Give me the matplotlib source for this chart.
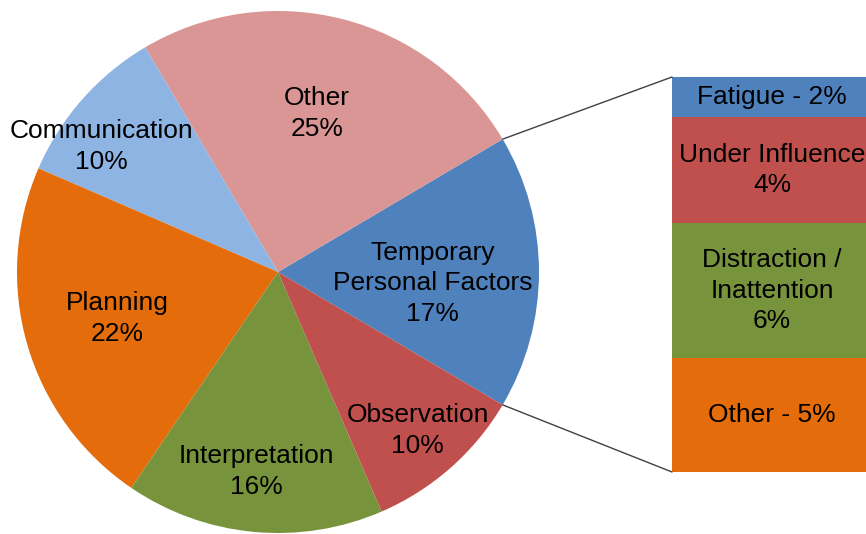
import numpy as np
import matplotlib
matplotlib.use("Agg")
import matplotlib.pyplot as plt
from matplotlib.patches import ConnectionPatch

# main pie, counterclockwise starting with the exploded slice
pie_labels = ["Temporary\nPersonal Factors", "Other", "Communication",
              "Planning", "Interpretation", "Observation"]
pie_values = [17, 25, 10, 22, 16, 10]
pie_colors = ["#4F81BD", "#DA9694", "#8EB4E3", "#E46C0A", "#77933C", "#C0504D"]

# breakdown of "Temporary Personal Factors", top to bottom
bar_labels = ["Fatigue - 2%", "Under Influence\n4%", "Distraction /\nInattention\n6%", "Other - 5%"]
bar_values = [1.7, 4.6, 5.8, 4.9]
bar_colors = ["#4F81BD", "#C0504D", "#77933C", "#E46C0A"]

plt.rcParams['font.family'] = ['Liberation Sans', 'DejaVu Sans']
FS = 19
LS = 1.35

W, H = 866, 534
fig = plt.figure(figsize=(W / 100, H / 100), dpi=100)
ax = fig.add_axes([0, 0, 1, 1])

cx, cy, r = 278, 262, 261
start = -pie_values[0] * 3.6 / 2
wedges, _ = ax.pie(pie_values, colors=pie_colors, startangle=start,
                   center=(cx, cy), radius=r, counterclock=True,
                   wedgeprops=dict(linewidth=0), frame=True)
ax.set_xlim(0, W)
ax.set_ylim(0, H)
ax.set_aspect("equal")
ax.axis("off")

# label placement: fraction of radius and angle shift from slice middle
label_dist = [0.595, 0.625, 0.83, 0.64, 0.77, 0.81]
label_shift = [-4.2, 0.6, 5.9, 0, -0.9, 0]
for w, lab, v, d, s in zip(wedges, pie_labels, pie_values, label_dist, label_shift):
    mid = np.deg2rad((w.theta1 + w.theta2) / 2 + s)
    ax.text(cx + d * r * np.cos(mid), cy + d * r * np.sin(mid), f"{lab}\n{v}%",
            ha="center", va="center", fontsize=FS, linespacing=LS, color="black")

# stacked bar for the breakdown
ax2 = fig.add_axes([672 / W, 62 / H, 200 / W, 395 / H])
total = sum(bar_values)
bottoms = np.cumsum([0] + bar_values[:-1])
ax2.bar(0, bar_values, bottom=bottoms, width=1, color=bar_colors, linewidth=0)
for b, v, lab in zip(bottoms, bar_values, bar_labels):
    ax2.text(0, b + v / 2, lab, ha="center", va="center", fontsize=FS,
             linespacing=LS, color="black")
ax2.set_xlim(-0.5, 0.5)
ax2.set_ylim(total, 0)
ax2.axis("off")

# connector lines from the pie slice to the bar
tpf = wedges[0]
for ang, yb in [(tpf.theta2, 0), (tpf.theta1, total)]:
    a = np.deg2rad(ang)
    con = ConnectionPatch(xyA=(cx + r * np.cos(a), cy + r * np.sin(a)), coordsA=ax.transData,
                          xyB=(-0.5, yb), coordsB=ax2.transData,
                          color="#404040", linewidth=1)
    fig.add_artist(con)

fig.savefig("out.png", dpi=100)
